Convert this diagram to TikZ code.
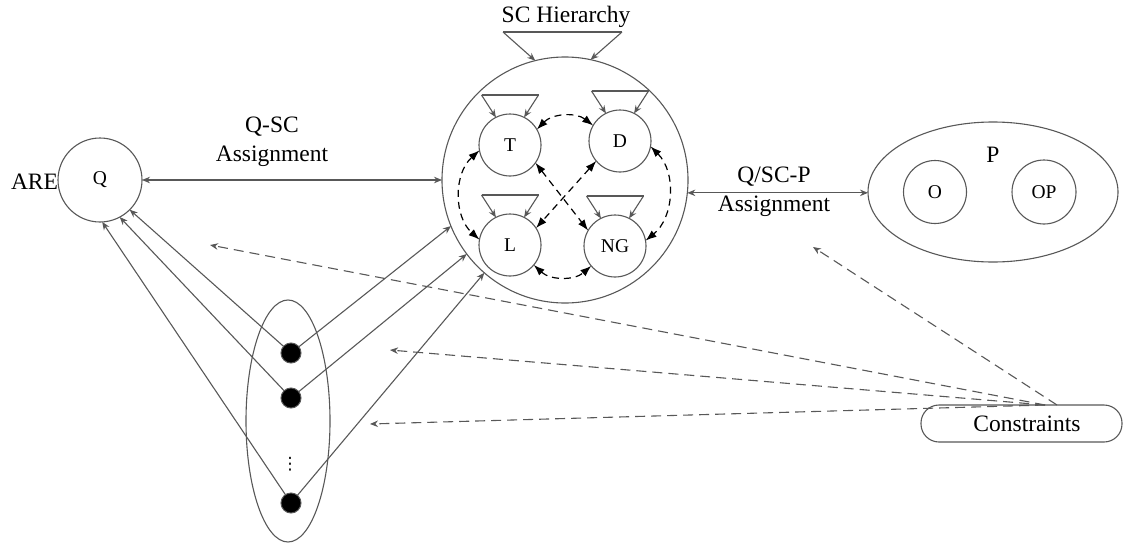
\documentclass[tikz,border=0pt]{standalone}
\usepackage{fontspec}
\setmainfont{Liberation Serif}
\newfontfamily\dejavu{DejaVu Sans}
\usetikzlibrary{arrows.meta,shapes.geometric}
\definecolor{ln}{RGB}{88,88,88}
\begin{document}
\begin{tikzpicture}[x=1pt,y=-1pt,
  every node/.style={inner sep=0pt, outer sep=0pt},
  big/.style={font=\fontsize{23.5}{29}\selectfont},
  small/.style={font=\fontsize{19.5}{22}\selectfont},
  circ/.style={circle, draw=ln, line width=1.1pt, minimum size=#1},
  garr/.style={draw=ln, line width=1.1pt, -{Stealth[length=8pt,width=6.5pt]}},
  gdarr/.style={draw=ln, line width=1.1pt, {Stealth[length=8pt,width=6.5pt]}-{Stealth[length=8pt,width=6.5pt]}},
  gdash/.style={garr, dash pattern=on 10pt off 6pt},
  bdash/.style={draw=black, line width=1.2pt, dash pattern=on 7pt off 5pt, {Latex[length=11pt,width=8pt]}-{Latex[length=11pt,width=8pt]}},
  blackdot/.style={circle, fill=black, draw=ln, line width=1pt, minimum size=20pt},
  hline/.style={draw=ln, line width=1.6pt}
]
\useasboundingbox (0,0) rectangle (1123,546);

% main nodes
\node[circ=84pt, small] (Q) at (100,180) {Q};
\node[big, anchor=east] (are) at (58,182) {ARE};
\node[circ=246pt] (SC) at (565,180) {};
\node[big] (hier) at (566,17) {SC Hierarchy};
\node[circ=62pt, small] (T) at (510,145) {T};
\node[circ=62pt, small] (D) at (620,141) {D};
\node[circ=62pt, small] (L) at (510,245) {L};
\node[circ=62pt, small] (NG) at (615,246) {NG};

\node[ellipse, draw=ln, line width=1.1pt, minimum width=250pt, minimum height=140pt] (P) at (993,192) {};
\node[big] (Plab) at (993,155) {P};
\node[circ=63pt, small] (O) at (935,192) {O};
\node[circ=64pt, small] (OP) at (1044,192) {OP};

\node[draw=ln, line width=1.1pt, rounded corners=18pt, minimum width=201pt, minimum height=37pt] (C) at (1021.5,423.5) {};
\node[big] (Ctext) at (1027,424) {Constraints};

\node[ellipse, draw=ln, line width=1.1pt, minimum width=84pt, minimum height=242pt] (grp) at (288,421) {};
\node[blackdot] (d1) at (291,353) {};
\node[blackdot] (d2) at (291,398) {};
\node[blackdot] (d3) at (291,503) {};
\node[font=\dejavu\fontsize{17}{17}\selectfont] (vd) at (290,464) {⋮};

\node[big, align=center] (qsc) at (272,142) {Q-SC\\Assignment};
\node[big, align=center] (qscp) at (774,192) {Q/SC-P\\Assignment};

% hierarchy symbols
\draw[hline] ([shift={(-62,-148)}]SC.center) -- ([shift={(57,-148)}]SC.center);
\draw[garr] ([shift={(-62,-148)}]SC.center) -- (SC.104);
\draw[garr] ([shift={(57,-148)}]SC.center) -- (SC.78);
\foreach \n in {T,D,L,NG}{
  \draw[hline] ([shift={(-28.5,-50)}]\n.center) -- ([shift={(28.5,-50)}]\n.center);
  \draw[garr] ([shift={(-28.5,-50)}]\n.center) -- (\n.117);
  \draw[garr] ([shift={(28.5,-50)}]\n.center) -- (\n.63);
}

% assignments
\draw[gdarr] (Q.east) -- (SC.west);
\draw[gdarr] (SC.-6) -- (SC.-6 -| P.west);

% dots
\draw[garr] (d1) -- (Q.-45);
\draw[garr] (d2) -- (Q.-62);
\draw[garr] (d3) -- (Q.-87);
\draw[garr] (d1) -- (SC.202);
\draw[garr] (d2) -- (SC.217);
\draw[garr] (d3) -- (SC.229);

% inner dashed arrows
\draw[bdash] (T.30) to[bend left=42] (D.150);
\draw[bdash] (T.190) to[bend right=48] (L.170);
\draw[bdash] (D.-10) to[bend left=48] (NG.10);
\draw[bdash] (L.-40) to[bend right=42] (NG.220);
\draw[bdash] (T.-35) -- (NG.150);
\draw[bdash] (D.220) -- (L.33);

% constraints
\coordinate (cs) at ([xshift=23.5pt]C.north);
\coordinate (cp) at ([xshift=35.5pt]C.north);
\coordinate (e1) at (210,245);
\coordinate (e2) at (390,350);
\coordinate (e3) at (370,424);
\coordinate (e4) at (813,247);
\draw[gdash] (cs) -- (e1);
\draw[gdash] (cs) -- (e2);
\draw[gdash] (cs) -- (e3);
\draw[gdash] (cp) -- (e4);
\end{tikzpicture}
\end{document}
